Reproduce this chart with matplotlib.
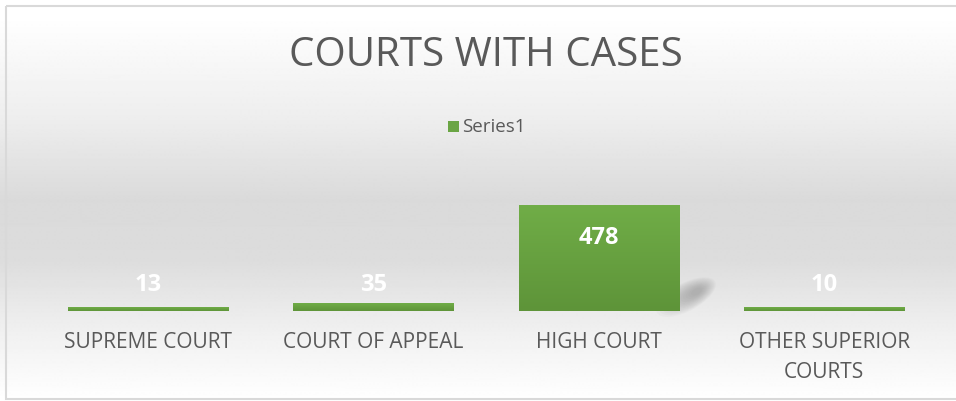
import matplotlib.pyplot as plt
import numpy as np
from matplotlib.patches import Rectangle, Ellipse
from matplotlib.colors import LinearSegmentedColormap

# chart data
categories = ["SUPREME COURT", "COURT OF APPEAL", "HIGH COURT", "OTHER SUPERIOR\nCOURTS"]
cases = [13, 35, 478, 10]
series_name = "Series1"
title = "COURTS WITH CASES"

W, H = 956, 401
fig = plt.figure(figsize=(W / 100, H / 100), dpi=100)

# background gradient: white at top, grey in the middle, white at the bottom
bg = fig.add_axes([0, 0, 1, 1])
ys = np.linspace(0, H, 400)
shade = np.interp(ys, [0, 15, 120, 200, 260, 330, 395, H],
                  [1.0, 1.0, 0.93, 0.855, 0.865, 0.94, 0.995, 1.0])
img = np.repeat(shade[:, None], 2, axis=1)
bg.imshow(img, cmap="gray", vmin=0, vmax=1, aspect="auto",
          extent=[0, W, H, 0], interpolation="bilinear")
bg.add_patch(Rectangle((6.5, 5.5), W + 5, 393, fill=False, edgecolor="#d9d9d9", lw=1.5))

# soft shadow to the right of the big bar (pixel coords, drawn under the bars)
for k in range(14):
    bg.add_patch(Ellipse((686 + k * 0.8, 297 - k * 0.4), 66 - k * 4.2, 28 - k * 1.7, angle=-28,
                         facecolor="#6a6a6a", edgecolor="none", alpha=0.035))
bg.set_xlim(0, W)
bg.set_ylim(H, 0)
bg.axis("off")

# plot area in pixel terms: baseline at y=311, 478 reaches y=205
left, right = 35, 937
base_px, top_px = 311, 205
ymax = cases[2] * (base_px - 20) / (base_px - top_px)
ax = fig.add_axes([left / W, (H - base_px) / H, (right - left) / W, (base_px - 20) / H])
ax.set_xlim(-0.5, len(cases) - 0.5)
ax.set_ylim(0, ymax)
ax.axis("off")

x = np.arange(len(cases))
bar_w = 0.71

bars = ax.bar(x, cases, width=bar_w, color="#6aa544", zorder=2)
grad = np.linspace(0, 1, 100)[:, None]
gcmap = LinearSegmentedColormap.from_list("g", ["#70ad47", "#5e9439"])
for b in bars:
    x0, w, h = b.get_x(), b.get_width(), b.get_height()
    # tiny bars get a minimum visible thickness like the original
    hh = max(h, 17)
    im = ax.imshow(grad, cmap=gcmap, aspect="auto", extent=[x0, x0 + w, 0, hh],
                   zorder=3, interpolation="bilinear")
    im.set_clip_path(Rectangle((x0, 0), w, hh, transform=ax.transData))
    b.set_height(hh)

# data labels
for i, v in enumerate(cases):
    if v > 100:
        xy, off = (i, v), -24
    else:
        xy, off = (i, 0), 18.5
    ax.annotate(str(v), xy=xy, xytext=(0, off), textcoords="offset points",
                ha="center", va="center", color="white", fontsize=17,
                fontweight="bold", family="Open Sans", zorder=5)

# category labels
for i, c in enumerate(categories):
    bg.text(left + (i + 0.5) * (right - left) / len(cases), 332, c, ha="center", va="top",
            color="#595959", fontsize=15, family="Open Sans", linespacing=1.55)

# title and legend
bg.text(486, 56, title, ha="center", va="center", color="#595959", fontsize=29,
        family="Open Sans")
bg.add_patch(Rectangle((448, 121), 11, 11, facecolor="#6aa544", edgecolor="none"))
bg.text(462, 127, series_name, ha="left", va="center", color="#595959", fontsize=13.5,
        family="Open Sans")

plt.savefig("out.png", dpi=100)
